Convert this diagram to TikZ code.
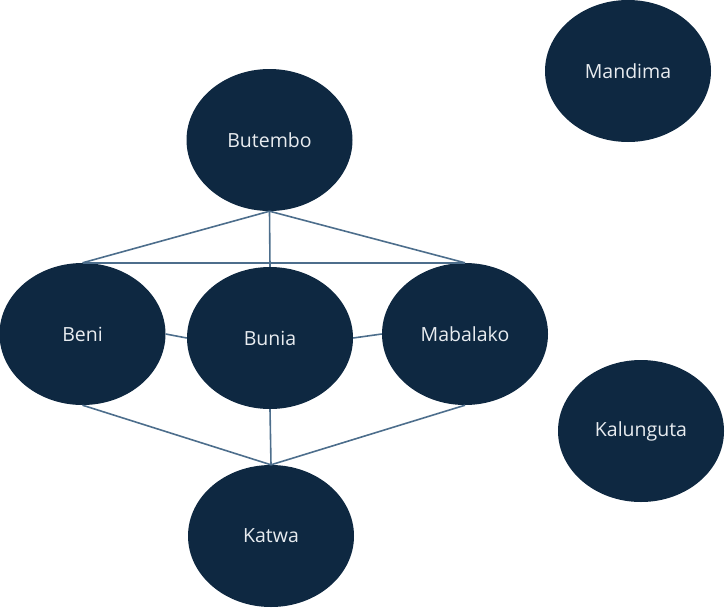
\documentclass[tikz,border=0pt]{standalone}
\usepackage{fontspec}
\setmainfont{Open Sans}
\usetikzlibrary{shapes.geometric}
\definecolor{navy}{HTML}{0E2841}
\definecolor{edgeblue}{HTML}{4D6E8C}
\definecolor{txt}{HTML}{E8ECF0}
\begin{document}
\begin{tikzpicture}[x=1pt,y=-1pt,
  town/.style={ellipse, fill=navy, draw=none, minimum width=166pt, minimum height=142pt, inner sep=0pt, text=txt, font=\fontsize{19.5}{23}\selectfont},
  link/.style={draw=edgeblue, line width=1.6pt}]
\useasboundingbox (0,0) rectangle (725,608);
\node[town] (butembo) at (269.5,140) {Butembo};
\node[town] (mandima) at (628,71) {Mandima};
\node[town] (beni) at (82.5,334) {Beni};
\node[town] (bunia) at (270,338) {Bunia};
\node[town] (mabalako) at (465,334) {Mabalako};
\node[town] (kalunguta) at (641,431) {Kalunguta};
\node[town] (katwa) at (271,536) {Katwa};
\draw[link] (butembo.south) -- (beni.north);
\draw[link] (butembo.south) -- (bunia.north);
\draw[link] (butembo.south) -- (mabalako.north);
\draw[link] (beni.north) -- (mabalako.north);
\draw[link] (beni.east) -- (bunia.west);
\draw[link] (bunia.east) -- (mabalako.west);
\draw[link] (beni.south) -- (katwa.north);
\draw[link] (bunia.south) -- (katwa.north);
\draw[link] (mabalako.south) -- (katwa.north);
\end{tikzpicture}
\end{document}
